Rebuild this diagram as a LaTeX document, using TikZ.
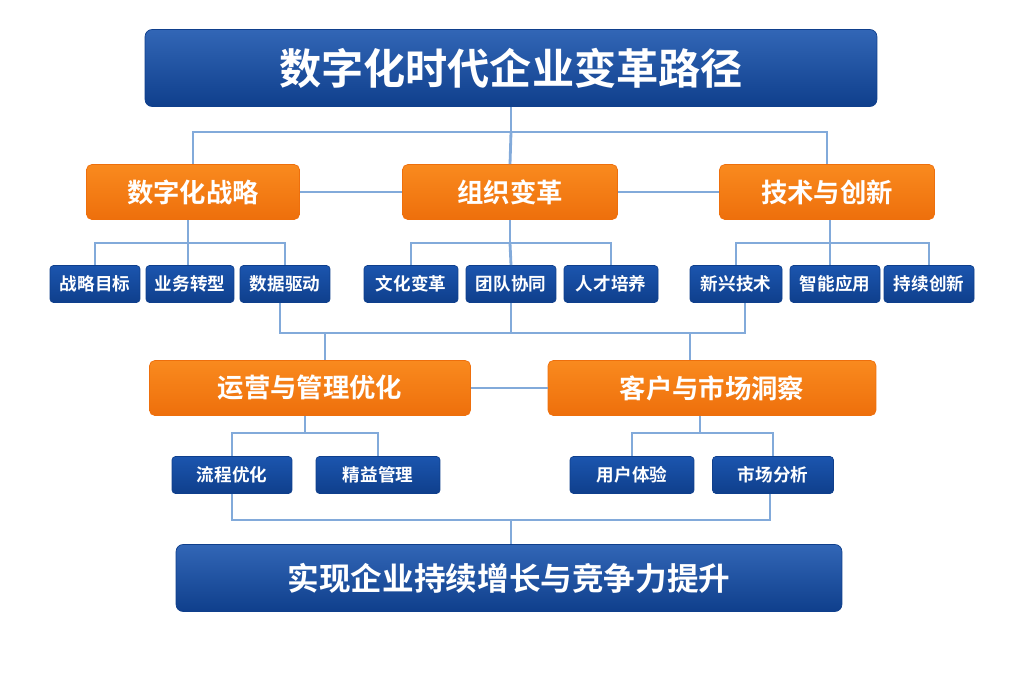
\documentclass[tikz,border=0pt]{standalone}
\usepackage{fontspec}
\newfontfamily\cjk{Noto Sans CJK SC}[BoldFont={Noto Sans CJK SC Bold}]
\definecolor{navy}{HTML}{1B55AE}
\definecolor{navyd}{HTML}{0F3F8C}
\definecolor{amber}{HTML}{F98A1E}
\definecolor{amberd}{HTML}{EE6F0C}
\definecolor{wire}{HTML}{82AADA}
\tikzset{
  head/.style={rounded corners=4pt, top color=navy!90, bottom color=navyd, draw=navyd,
    text=white, font=\cjk\bfseries, inner sep=0pt},
  topic/.style={rounded corners=3pt, top color=amber, bottom color=amberd, draw=amberd,
    text=white, font=\cjk\bfseries\fontsize{15}{18}\selectfont, inner sep=0pt,
    minimum height=1.1cm},
  leaf/.style={rounded corners=2pt, top color=navy, bottom color=navyd, draw=navyd,
    text=white, font=\cjk\bfseries\fontsize{10}{12}\selectfont, inner sep=0pt,
    minimum height=0.74cm},
  link/.style={wire, line width=1.6pt}
}
\begin{document}
\begin{tikzpicture}[x=0.02cm, y=-0.02cm]
  \useasboundingbox (0,0) rectangle (1024,683);
  % header and footer
  \node[head, minimum width=14.64cm, minimum height=1.54cm,
    font=\cjk\bfseries\fontsize{24}{28}\selectfont] (title) at (511,68) {数字化时代企业变革路径};
  \node[head, minimum width=13.32cm, minimum height=1.34cm,
    font=\cjk\bfseries\fontsize{18}{22}\selectfont] (goal) at (509,578) {实现企业持续增长与竞争力提升};
  % topics
  \node[topic, minimum width=4.26cm] (strat) at (193,192) {数字化战略};
  \node[topic, minimum width=4.30cm] (org) at (510,192) {组织变革};
  \node[topic, minimum width=4.30cm] (tech) at (827,192) {技术与创新};
  \node[topic, minimum width=6.42cm] (ops) at (310,388) {运营与管理优化};
  \node[topic, minimum width=6.56cm] (cust) at (712,388) {客户与市场洞察};
  % leaves
  \node[leaf, minimum width=1.80cm] (s1) at (95,284) {战略目标};
  \node[leaf, minimum width=1.76cm] (s2) at (190,284) {业务转型};
  \node[leaf, minimum width=1.80cm] (s3) at (285,284) {数据驱动};
  \node[leaf, minimum width=1.88cm] (o1) at (411,284) {文化变革};
  \node[leaf, minimum width=1.80cm] (o2) at (511,284) {团队协同};
  \node[leaf, minimum width=1.88cm] (o3) at (611,284) {人才培养};
  \node[leaf, minimum width=1.84cm] (t1) at (736,284) {新兴技术};
  \node[leaf, minimum width=1.80cm] (t2) at (835,284) {智能应用};
  \node[leaf, minimum width=1.80cm] (t3) at (929,284) {持续创新};
  \node[leaf, minimum width=2.40cm] (p1) at (232,475) {流程优化};
  \node[leaf, minimum width=2.48cm] (p2) at (378,475) {精益管理};
  \node[leaf, minimum width=2.48cm] (c1) at (632,475) {用户体验};
  \node[leaf, minimum width=2.42cm] (c2) at (773,475) {市场分析};
  % junctions
  \coordinate (j0) at (511,132);
  \coordinate (j1) at (188,243);
  \coordinate (j2) at (510,243);
  \coordinate (j3) at (830,243);
  \coordinate (j4) at (511,333);
  \coordinate (j5) at (305,433);
  \coordinate (j6) at (700,433);
  \coordinate (j7) at (511,520);
  \begin{scope}[on background layer/.style={}]
    \draw[link] (title.south) -- (j0);
    \draw[link] (j0) -| (strat.north);
    \draw[link] (j0) -| (tech.north);
    \draw[link] (j0) -- (org.north);
    \draw[link] (strat.east) -- (org.west);
    \draw[link] (org.east) -- (tech.west);
    \draw[link] (strat.south -| j1) -- (j1);
    \draw[link] (s1.north) |- (j1) -| (s3.north);
    \draw[link] (j1) -- (s2.north -| j1);
    \draw[link] (org.south) -- (j2);
    \draw[link] (o1.north) |- (j2) -| (o3.north);
    \draw[link] (j2) -- (o2.north);
    \draw[link] (tech.south -| j3) -- (j3);
    \draw[link] (t1.north) |- (j3) -| (t3.north);
    \draw[link] (j3) -- (t2.north -| j3);
    \draw[link] (s3.south -| 280,0) |- (j4);
    \draw[link] (t1.south -| 745,0) |- (j4);
    \draw[link] (o2.south) -- (j4);
    \draw[link] (325,333) -- (ops.north -| 325,0);
    \draw[link] (690,333) -- (cust.north -| 690,0);
    \draw[link] (ops.east) -- (cust.west);
    \draw[link] (ops.south -| j5) -- (j5);
    \draw[link] (p1.north) |- (j5) -| (p2.north);
    \draw[link] (cust.south -| j6) -- (j6);
    \draw[link] (c1.north) |- (j6) -| (c2.north);
    \draw[link] (p1.south) |- (j7);
    \draw[link] (c2.south -| 770,0) |- (j7);
    \draw[link] (j7) -- (goal.north -| j7);
  \end{scope}
\end{tikzpicture}
\end{document}
